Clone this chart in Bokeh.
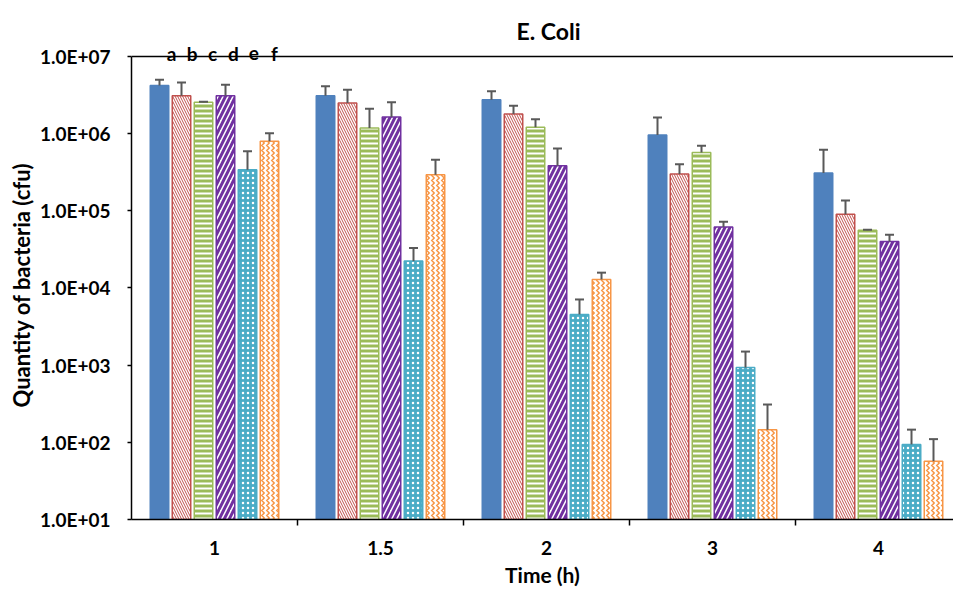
from bokeh.plotting import figure
from bokeh.models import (ColumnDataSource, Range1d, FixedTicker, Whisker,
                          TeeHead, Label, Span, Title)
from bokeh.embed import file_html
from bokeh.resources import INLINE

# Sampling times (h) and treatment series a-f
times = ["1", "1.5", "2", "3", "4"]
series = ["a", "b", "c", "d", "e", "f"]

# Mean bacterial counts (cfu) per series, one value per time point
a_mean = [4.2e6, 3.1e6, 2.75e6, 9.6e5, 3.1e5]
b_mean = [3.1e6, 2.5e6, 1.8e6, 3.0e5, 9.0e4]
c_mean = [2.55e6, 1.18e6, 1.21e6, 5.7e5, 5.6e4]
d_mean = [3.1e6, 1.64e6, 3.85e5, 6.15e4, 4.0e4]
e_mean = [3.4e5, 2.23e4, 4.55e3, 930, 94]
f_mean = [8.0e5, 2.94e5, 1.29e4, 146, 57]

# Standard deviations (upper error bars)
a_sd = [0.8e6, 1.0e6, 0.8e6, 0.66e6, 0.31e6]
b_sd = [1.5e6, 1.2e6, 0.5e6, 1.0e5, 4.6e4]
c_sd = [0.05e6, 0.92e6, 0.33e6, 1.27e5, 1.0e3]
d_sd = [1.2e6, 0.92e6, 2.55e5, 1.05e4, 9.0e3]
e_sd = [2.5e5, 1.07e4, 2.55e3, 570, 52]
f_sd = [2.1e5, 1.66e5, 2.9e3, 163, 53]

means = [a_mean, b_mean, c_mean, d_mean, e_mean, f_mean]
sds = [a_sd, b_sd, c_sd, d_sd, e_sd, f_sd]

# Log axis ticks and their labels
y_ticks = [1e1, 1e2, 1e3, 1e4, 1e5, 1e6, 1e7]
y_tick_labels = ["1.0E+01", "1.0E+02", "1.0E+03", "1.0E+04",
                 "1.0E+05", "1.0E+06", "1.0E+07"]

FONT = "Lato"
GREY = "#595959"

styles = [
    dict(fill_color="#4F81BD", line_color="#4F81BD"),
    dict(fill_color="white", line_color="#C0504D", hatch_pattern="\\",
         hatch_color="#C0504D", hatch_weight=1, hatch_scale=5),
    dict(fill_color="#9BBB59", line_color="#9BBB59", hatch_pattern="-",
         hatch_color="white", hatch_weight=2, hatch_scale=5),
    dict(fill_color="white", line_color="#7030A0", hatch_pattern="/",
         hatch_color="#7030A0", hatch_weight=3, hatch_scale=10),
    dict(fill_color="#4BACC6", line_color="#4BACC6", hatch_pattern=".",
         hatch_color="white", hatch_weight=1.5, hatch_scale=5),
    dict(fill_color="white", line_color="#F79646", hatch_pattern=">",
         hatch_color="#F79646", hatch_weight=1.5, hatch_scale=5),
]

# Geometry of the grouped bars (in category units, one unit per time)
cat_px = 166.0          # pixel width of one time group
dec_px = 77.2           # pixel height of one decade
step = 22 / cat_px
bar_w = 18.5 / cat_px

# The plotting area reaches the top of the canvas so that the title and the
# series letters can live above the 1.0E+07 line; the y axis is bounded.
y_top = 10 ** (7 + 56 / dec_px)

p = figure(width=953, height=593, y_axis_type="log",
           x_range=Range1d(0, 822 / cat_px), y_range=Range1d(1e1, y_top),
           output_backend="svg", toolbar_location=None,
           min_border_left=131, min_border_right=0,
           min_border_top=0, min_border_bottom=74)

p.xgrid.grid_line_color = None
p.ygrid.grid_line_color = None
p.outline_line_color = None
p.background_fill_color = "white"

centers = [i + 0.5 for i in range(len(times))]

for k, name in enumerate(series):
    xs = [c + (k - 2.5) * step for c in centers]
    tops = [m + s for m, s in zip(means[k], sds[k])]
    src = ColumnDataSource(dict(x=xs, val=means[k], top=tops))
    p.vbar(x="x", width=bar_w, bottom=1e1, top="val", source=src,
           line_width=1.5, **styles[k])
    p.add_layout(Whisker(source=src, base="x", lower="val", upper="top",
                         dimension="height", line_color=GREY, line_width=2,
                         upper_head=TeeHead(size=9, line_color=GREY, line_width=2),
                         lower_head=None, level="overlay"))

# top border line at 1.0E+07
p.add_layout(Span(location=1e7, dimension="width", line_color="black",
                  line_width=1.5))

# x axis: labels at group centres, tick marks between groups
p.xaxis.ticker = FixedTicker(ticks=centers, minor_ticks=[1, 2, 3, 4])
p.xaxis.major_label_overrides = {c: t for c, t in zip(centers, times)}
p.xaxis.major_tick_line_color = None
p.xaxis.major_tick_out = 6
p.xaxis.minor_tick_line_color = "black"
p.xaxis.minor_tick_line_width = 1.5
p.xaxis.minor_tick_out = 6
p.xaxis.minor_tick_in = 0
p.xaxis.major_label_standoff = 15
p.xaxis.axis_label = "Time (h)"
p.xaxis.axis_label_standoff = 4

# y axis (its title is a separate panel so it centres on the bounded axis)
p.yaxis.bounds = (1e1, 1e7)
p.yaxis.ticker = FixedTicker(ticks=y_ticks)
p.yaxis.major_label_overrides = {t: l for t, l in zip(y_ticks, y_tick_labels)}
p.yaxis.minor_tick_line_color = None
p.yaxis.major_tick_out = 4
p.yaxis.major_tick_in = 0
p.yaxis.major_label_standoff = 17

for ax in (p.xaxis, p.yaxis):
    ax.axis_line_color = "black"
    ax.axis_line_width = 1.5
    ax.major_tick_line_width = 1.5
    ax.major_label_text_font = FONT
    ax.major_label_text_font_style = "bold"
    ax.major_label_text_font_size = "19px"
    ax.major_label_text_color = "black"
    ax.axis_label_text_font = FONT
    ax.axis_label_text_font_style = "bold"
    ax.axis_label_text_font_size = "21px"
    ax.axis_label_text_color = "black"

p.add_layout(Title(text="Quantity of bacteria (cfu)", align="left",
                   offset=112, standoff=4, text_font=FONT,
                   text_font_style="bold", text_font_size="22px",
                   text_color="black"), "left")

# chart title
p.add_layout(Label(x=(548 - 131) / cat_px, y=10 ** (7 + 25 / dec_px),
                   text="E. Coli", text_font=FONT, text_font_style="bold",
                   text_font_size="23px", text_align="center",
                   text_baseline="alphabetic", text_color="black"))

# series letters above the first group
for k, name in enumerate(series):
    p.add_layout(Label(x=centers[0] + (-43 + 20.6 * k) / cat_px,
                       y=10 ** (7 + 3 / dec_px),
                       text=name, text_font=FONT, text_font_style="bold",
                       text_font_size="19px", text_align="center",
                       text_baseline="alphabetic", text_color="black"))

open("out.html", "w").write(file_html(p, INLINE))
